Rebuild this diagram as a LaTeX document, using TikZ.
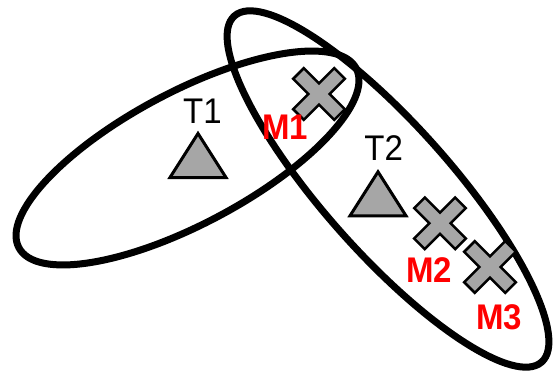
\documentclass[tikz,border=0pt]{standalone}
\usepackage{fontspec}
\setmainfont{Liberation Sans}
\definecolor{markgray}{RGB}{166,166,166}
\definecolor{labelred}{RGB}{255,0,0}

\begin{document}
\begin{tikzpicture}[x=1pt, y=1pt,
      zone/.style={draw=black, line width=7pt},
      site/.style={draw=black, line width=3pt, fill=markgray, line join=miter},
      crossmark/.pic={
        \path[site, line width=2.5pt, rotate=45]
          (-7.5,29) -- (7.5,29) -- (7.5,7.5) -- (29,7.5) -- (29,-7.5) -- (7.5,-7.5)
          -- (7.5,-29) -- (-7.5,-29) -- (-7.5,-7.5) -- (-29,-7.5) -- (-29,7.5) -- (-7.5,7.5) -- cycle;
      },
      tlabel/.style={font=\fontsize{33}{33}\selectfont, inner sep=0pt, transform shape, yscale=1.08},
      mlabel/.style={tlabel, font=\fontsize{33}{33}\selectfont\bfseries, text=labelred}
    ]
    \useasboundingbox (0,0) rectangle (553,378);

    % the two regions
    \draw[zone, rotate around={28:(187.5,220)}] (187.5,220) ellipse [x radius=191pt, y radius=66pt];
    \draw[zone, rotate around={-48.4:(388,189)}] (388,189) ellipse [x radius=231.4pt, y radius=63.8pt];

    % transmitters
    \draw[site] (170,200.5) -- (226,200.5) -- (198,244.5) -- cycle;
    \draw[site] (350,162.2) -- (406,162.2) -- (378,206.2) -- cycle;
    \node[tlabel] (t1) at (202.5,267.2) {T1};
    \node[tlabel] (t2) at (383.7,230) {T2};

    % monitors
    \pic (m1mark) at (319,284) {crossmark};
    \pic (m2mark) at (440,154.7) {crossmark};
    \pic (m3mark) at (490,111) {crossmark};
    \node[mlabel] (m1) at (285,250.5) {M1};
    \node[mlabel] (m2) at (429,108) {M2};
    \node[mlabel] (m3) at (499.3,60.3) {M3};
  \end{tikzpicture}
\end{document}
